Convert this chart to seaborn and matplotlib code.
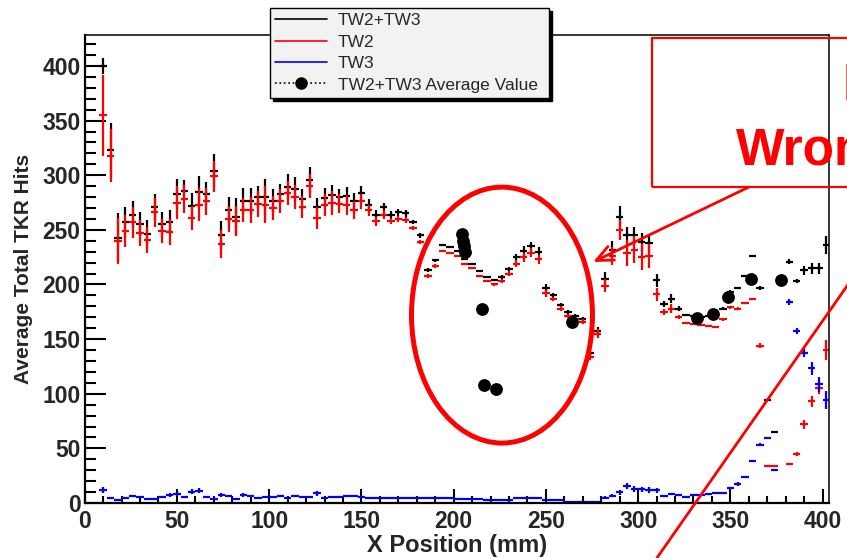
import numpy as np
import pandas as pd
import matplotlib.pyplot as plt
import seaborn as sns
from matplotlib.patches import Ellipse, Rectangle
from matplotlib.lines import Line2D
from matplotlib.ticker import MultipleLocator

# bin centres (mm), 4 mm wide bins
x_pos = np.arange(10, 403, 4)

# TW2+TW3 (black)
tw23 = [400, 323, 243, 257, 264, 255, 246, 271, 255, 257,
        283, 286, 272, 285, 283, 304, 245, 268, 262, 276,
        276, 280, 280, 276, 283, 289, 287, 278, 296, 271,
        279, 282, 280, 281, 276, 284, 273, 264, 271, 264,
        266, 265, 257, 245, 213, 222, 236, 234, 231, 223,
        219, 212, 207, 204, 207, 214, 225, 231, 235, 230,
        197, 190, 181, 175, 171, 168, 137, 157, 205, 232,
        262, 245, 245, 239, 238, 204, 182, 187, 178, 172,
        171, 170, 171, 172, 178, 193, 197, 208, 226, 197,
        94, 65, 204, 221, 203, 213, 215, 215, 236]
tw23_err = [7, 25, 22, 14, 12, 11, 13, 12, 11, 11,
            14, 10, 12, 14, 11, 15, 13, 12, 17, 12,
            12, 10, 17, 11, 9, 12, 11, 9, 12, 8,
            9, 9, 7, 8, 8, 6, 5, 4, 4, 3,
            3, 3, 2, 2, 2, 1.5, 1, 1, 1, 1,
            1, 1, 1, 1, 2, 2, 3, 4, 4, 4,
            3, 2, 2, 2, 2, 2, 3, 4, 6, 8,
            10, 8, 8, 8, 8, 6, 3, 4, 2, 1,
            1, 1, 1, 1, 1, 2, 1, 1, 1, 2,
            1, 1, 1, 2, 2, 4, 5, 5, 8]

# TW2 (red)
tw2 = [355, 318, 240, 249, 257, 247, 241, 266, 249, 248,
       275, 278, 261, 273, 276, 299, 237, 260, 258, 268,
       268, 274, 273, 270, 276, 284, 280, 271, 290, 261,
       273, 275, 274, 273, 268, 276, 268, 258, 264, 258,
       260, 259, 252, 239, 208, 217, 231, 229, 226, 219,
       215, 208, 203, 200, 203, 210, 219, 225, 229, 223,
       192, 187, 178, 171, 168, 166, 134, 155, 199, 226,
       250, 229, 232, 225, 226, 191, 175, 178, 170, 165,
       164, 163, 162, 161, 168, 179, 178, 183, 187, 144,
       34, 34, np.nan, 36, 45, 72, 93, 105, 140]
tw2_err = [37, 24, 21, 15, 14, 12, 12, 13, 11, 12,
           15, 13, 11, 15, 12, 14, 13, 12, 14, 11,
           12, 12, 17, 11, 11, 11, 11, 10, 11, 10,
           10, 11, 9, 9, 8, 7, 5, 4, 4, 3,
           3, 3, 2, 2, 2, 1.5, 1, 1, 1, 1,
           1, 1, 1, 1, 2, 2, 3, 4, 4, 4,
           3, 2, 2, 2, 2, 2, 3, 4, 6, 8,
           9, 12, 12, 12, 11, 6, 3, 4, 2, 1,
           1, 1, 1, 1, 1, 1, 1, 1, 1, 2,
           1, 1, 0, 1, 2, 4, 5, 5, 9]

# TW3 (blue)
tw3 = [12, 4.3, 2.7, 4.9, 6.4, 5.8, 3.7, 3.4, 5.8, 7.3,
       8, 5.8, 10.4, 11.3, 5.2, 3.7, 7.3, 6.7, 3.4, 7.3,
       6.7, 4.9, 5.8, 5.2, 6.4, 4.3, 6.7, 5.2, 5.8, 8.8,
       4.9, 5.2, 5.8, 6.4, 6.7, 5.8, 4.3, 4.3, 4.6, 4.3,
       4.3, 4.3, 4.3, 4.3, 4.3, 4.3, 4.3, 4.3, 3.4, 3.4,
       3.4, 3.4, 2.7, 2.7, 2.7, 2.7, 4.6, 4.6, 4.6, 4.6,
       2.3, 2.3, 2.3, 1.2, 1.0, 1.0, 1.2, 1.3, 5, 6.6,
       9.6, 15.6, 12.6, 12.5, 11.9, 11.5, 6.4, 8.2, 7.3, 5.8,
       7.3, 7.3, 7.9, 8.8, 8.8, 13.4, 17.4, 24, 38.6, 53.5,
       59.3, 30.2, np.nan, 184, 157.4, 137.6, 123.3, 108.7, 94.3]
tw3_err = [3, 1, 1, 1, 1, 1, 1, 1, 1, 2,
           2, 1, 2.5, 2.5, 1, 1, 1.5, 1, 1, 1.5,
           1, 1, 1, 1, 1, 1, 1, 1, 1, 2,
           1, 1, 1, 1, 1, 1, 0, 0, 0, 0,
           0, 0, 0, 0, 0, 0, 0, 0, 0, 0,
           0, 0, 0, 0, 0, 0, 0, 0, 0, 0,
           0, 0, 0, 0, 0, 0, 0, 0, 1, 1.5,
           2, 3, 2.5, 2.5, 2.5, 2.5, 1, 1, 1, 1,
           1, 1, 1, 1, 1, 1.5, 1.5, 1, 1, 1.5,
           1, 1, 0, 3, 3, 4, 6, 7, 8]

# TW2+TW3 average value points
avg_x = [204.8, 205.1, 205.5, 205.9, 215.2, 216.6, 222.8, 264.0,
         331.7, 340.7, 348.5, 361.1, 377.2]
avg_y = [246, 240, 235, 230, 177.3, 107.7, 104.6, 165.4,
         169.0, 173.0, 188.3, 204.8, 203.8]

series = pd.DataFrame({'x': x_pos, 'tw23': tw23, 'tw23_err': tw23_err,
                       'tw2': tw2, 'tw2_err': tw2_err,
                       'tw3': tw3, 'tw3_err': tw3_err})
avg = pd.DataFrame({'x': avg_x, 'y': avg_y})

sns.set_style('ticks')
plt.rcParams['font.family'] = ['Liberation Sans', 'DejaVu Sans']

fig = plt.figure(figsize=(8.47, 5.58), dpi=100)
ax = fig.add_axes([0.1, 0.0986, 0.8788, 0.8387])

# histograms drawn ROOT style: bin-width bar + vertical error
for col, color in [('tw23', 'black'), ('tw2', 'red'), ('tw3', 'blue')]:
    ax.errorbar(series['x'], series[col], xerr=2, yerr=series[col + '_err'],
                fmt='none', ecolor=color, elinewidth=1.6, capsize=0, zorder=2)

sns.scatterplot(data=avg, x='x', y='y', color='black', s=85, linewidth=0,
                ax=ax, zorder=5, legend=False)

ax.set_xlim(0, 403.5)
ax.set_ylim(0, 428.4)
ax.xaxis.set_major_locator(MultipleLocator(50))
ax.xaxis.set_minor_locator(MultipleLocator(10))
ax.yaxis.set_major_locator(MultipleLocator(50))
ax.yaxis.set_minor_locator(MultipleLocator(10))
ax.tick_params(which='both', direction='in', top=False, right=False,
               width=1.5, color='black')
ax.tick_params(axis='x', which='major', length=10, pad=5)
ax.tick_params(axis='x', which='minor', length=5)
ax.tick_params(axis='y', which='major', length=15, pad=3)
ax.tick_params(axis='y', which='minor', length=8)
for lab in ax.get_xticklabels() + ax.get_yticklabels():
    lab.set_fontsize(16.5)
    lab.set_fontweight('bold')
for side in ['top', 'right']:
    ax.spines[side].set_linewidth(1.1)
for side in ['left', 'bottom']:
    ax.spines[side].set_linewidth(1.6)
for s in ax.spines.values():
    s.set_color('black')

ax.set_xlabel('X Position (mm)', fontsize=17, fontweight='bold')
ax.set_ylabel('Average Total TKR Hits', fontsize=15, fontweight='bold')
ax.xaxis.set_label_coords(0.5, -0.066)
ax.yaxis.set_label_coords(-0.069, 0.5)

# legend sitting over the top frame
handles = [Line2D([], [], color='black', lw=1.2),
           Line2D([], [], color='red', lw=1.2),
           Line2D([], [], color='blue', lw=1.2),
           Line2D([], [], color='black', lw=1.2, ls=':', marker='o',
                  markersize=8)]
labels = ['TW2+TW3', 'TW2', 'TW3', 'TW2+TW3 Average Value']
fig.legend(handles, labels, loc='upper left',
           bbox_to_anchor=(0.3188, 0.9857 - 0.156, 0.3294, 0.156),
           mode='expand', borderaxespad=0, fontsize=12.5, numpoints=1,
           handlelength=3.0, handletextpad=0.6, labelspacing=0.36,
           borderpad=0.3, fancybox=False, framealpha=1,
           facecolor='#f2f2f2', edgecolor='black',
           shadow={'color': 'black', 'alpha': 1})

# annotations
ax.add_patch(Ellipse((226.2, 172), 98.1, 234.3, fill=False, ec='red',
                     lw=3.6, zorder=6))
ax.add_patch(Rectangle((307.5, 289.2), 160, 136.4, fill=False, ec='red',
                       lw=1.6, clip_on=False, zorder=6))
ax.annotate('', xy=(275.6, 220.6), xytext=(360, 289.2),
            arrowprops=dict(arrowstyle='->,head_length=0.4,head_width=0.18',
                            color='red', lw=2, mutation_scale=30,
                            shrinkA=0, shrinkB=0),
            annotation_clip=False, zorder=6)
ax.plot([310.2, 460], [-50.3, 311.6], color='red', lw=2, clip_on=False,
        zorder=7)
ax.text(410.8, 368.9, 'Data', color='red', fontsize=37, fontweight='bold',
        va='baseline', clip_on=False)
ax.text(353, 309.4, 'Wrong!', color='red', fontsize=37, fontweight='bold',
        va='baseline', clip_on=False)

fig.savefig('out.png', dpi=100)
